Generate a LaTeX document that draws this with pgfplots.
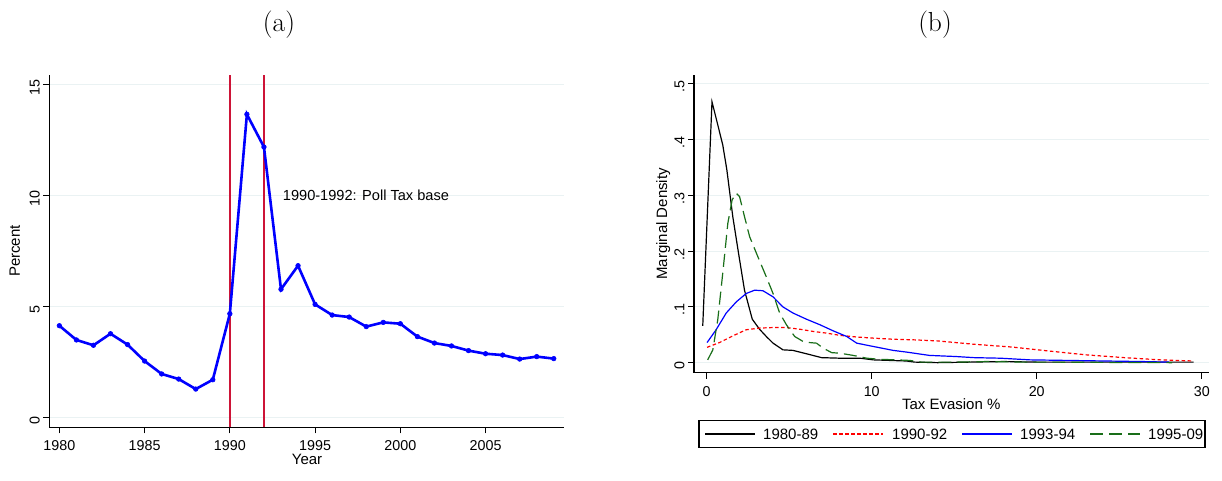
\documentclass[border=0pt]{standalone}
\usepackage{fontspec}
\usepackage{pgfplots}
\pgfplotsset{compat=1.18}
\newfontfamily\sans{Liberation Sans}
\definecolor{gridc}{RGB}{234,242,243}
\definecolor{vline}{RGB}{205,20,55}
\definecolor{dkgreen}{RGB}{25,110,25}
\definecolor{pblue}{RGB}{0,0,255}
\definecolor{pred}{RGB}{255,0,0}
\pgfplotsset{
  stata/.style={
    scale only axis,
    axis lines*=left,
    axis line style={line width=1.2pt, black},
    tick align=outside,
    major tick length=6pt,
    tick style={line width=1.1pt, black},
    ymajorgrids,
    grid style={gridc, line width=1.1pt},
    tick label style={font=\sans\fontsize{14.3}{16}\selectfont},
    label style={font=\sans\fontsize{15}{17}\selectfont},
    /pgf/number format/assume math mode=true,
    yticklabel style={rotate=90, anchor=south, xshift=-3pt},
    xticklabel style={yshift=-4pt},
  }
}
\begin{document}
\begin{tikzpicture}
\useasboundingbox (0pt,0pt) rectangle (1222pt,481pt);
\node[font=\fontsize{27.5}{30}\selectfont] at (279pt,456pt) {(a)};
\node[font=\fontsize{27.5}{30}\selectfont] at (935pt,456pt) {(b)};

\begin{axis}[stata,
  at={(49.3pt,53.7pt)}, anchor=south west,
  width=514.7pt, height=352.3pt,
  xmin=1979.41, xmax=2009.6, ymin=-0.43, ymax=15.42,
  xtick={1980,1985,1990,1995,2000,2005},
  xticklabels={1980,1985,1990,1995,2000,2005},
  ytick={0,5,10,15}, yticklabels={0,5,10,15},
  xlabel={Year}, ylabel={Percent},
  xlabel style={at={(axis description cs:0.5007,-0.09)}, anchor=center},
  ylabel style={at={(axis description cs:-0.067,0.5)}, anchor=center},
]
\addplot[color=vline, draw=vline, line width=1.5pt] coordinates {(1990,-0.43) (1990,15.42)};
\addplot[color=vline, draw=vline, line width=1.5pt] coordinates {(1992,-0.43) (1992,15.42)};
\addplot[color=pblue, draw=pblue, line width=2.6pt, mark=*, mark size=2.3pt, mark options={solid, fill=pblue, draw=pblue, line width=0.6pt}] coordinates {
(1980,4.14) (1981,3.50) (1982,3.26) (1983,3.78) (1984,3.29)
(1985,2.55) (1986,1.97) (1987,1.74) (1988,1.29) (1989,1.71)
(1990,4.68) (1991,13.65) (1992,12.18) (1993,5.78) (1994,6.84)
(1995,5.10) (1996,4.62) (1997,4.53) (1998,4.10) (1999,4.29)
(2000,4.23) (2001,3.65) (2002,3.36) (2003,3.23) (2004,3.02)
(2005,2.88) (2006,2.82) (2007,2.64) (2008,2.75) (2009,2.66)
};
\node[anchor=west, inner sep=0pt, font=\sans\fontsize{14.6}{17}\selectfont] at (axis cs:1993.1,10) {1990-1992: Poll Tax base};
\end{axis}

\begin{axis}[stata,
  at={(694pt,108.3pt)}, anchor=south west,
  width=514.5pt, height=297.7pt,
  xmin=-0.77, xmax=30.41, ymin=-0.018, ymax=0.516,
  xtick={0,10,20,30}, xticklabels={0,10,20,30},
  ytick={0,0.1,0.2,0.3,0.4,0.5}, yticklabels={0,.1,.2,.3,.4,.5},
  xlabel={Tax Evasion \%}, ylabel={Marginal Density},
  xlabel style={at={(axis description cs:0.5,-0.105)}, anchor=center},
  ylabel style={at={(axis description cs:-0.06,0.5)}, anchor=center},
]
\addplot[black, line width=1.2pt] coordinates {
(-0.24,0.066) (0.32,0.468) (0.97,0.391) (1.22,0.346) (1.58,0.262) (1.93,0.196)
(2.29,0.130) (2.76,0.078) (3.2,0.060) (3.61,0.047) (4.02,0.035) (4.62,0.023)
(5.23,0.022) (6.04,0.016) (6.96,0.009) (8.07,0.008) (9.29,0.008) (10.1,0.005)
(12.1,0.003) (12.6,0.001) (14,0.0) (16,0.001) (18,0.002) (20,0.001) (22,0.001)
(25,0.001) (28,0.001) (29.5,0.001)
};
\addplot[pred, line width=1.2pt, dash pattern=on 3.5pt off 2.5pt] coordinates {
(0.02,0.0275) (0.77,0.036) (1.58,0.048) (2.39,0.059) (3.2,0.062) (4.02,0.063)
(4.83,0.063) (5.64,0.060) (6.45,0.056) (7.26,0.053) (8.07,0.049) (9.09,0.046)
(10.1,0.044) (11.3,0.042) (12.5,0.041) (14,0.039) (16.2,0.033) (18.5,0.028)
(20.7,0.021) (23,0.014) (25.3,0.009) (27.5,0.005) (29.5,0.003)
};
\addplot[pblue, line width=1.2pt] coordinates {
(0.02,0.036) (0.57,0.059) (1.18,0.089) (1.79,0.109) (2.39,0.124) (2.9,0.130)
(3.41,0.129) (4.02,0.118) (4.62,0.100) (5.23,0.089) (6.04,0.078) (6.86,0.068)
(7.67,0.057) (8.48,0.047) (9.09,0.035) (10.1,0.029) (11.3,0.022) (12.1,0.019)
(13.5,0.013) (15.1,0.011) (16.2,0.009) (17.8,0.008) (19.6,0.005) (21.9,0.004)
(24.1,0.003) (26.4,0.002) (28,0.001)
};
\addplot[dkgreen, line width=1.2pt, dash pattern=on 13pt off 6pt] coordinates {
(0.06,0.005) (0.37,0.023) (0.67,0.077) (0.97,0.160) (1.28,0.250) (1.54,0.292)
(1.79,0.304) (1.99,0.298) (2.29,0.262) (2.6,0.226) (3.1,0.190) (3.61,0.154)
(4.02,0.124) (4.42,0.089) (4.83,0.068) (5.33,0.047) (5.84,0.038) (6.25,0.036)
(6.65,0.035) (7.06,0.026) (7.57,0.018) (8.07,0.017) (8.88,0.013) (9.7,0.008)
(10.5,0.006) (11.5,0.005) (12.3,0.004) (13,0.001) (15,0.001) (17,0.002)
(19,0.001) (21,0.001) (24,0.0005) (28.2,0.0)
};
\node[anchor=west, inner sep=0pt, font=\sans\fontsize{11.2}{13}\selectfont] at (axis description cs:0.006,-0.298) {kernel = epanechnikov, bandwidth = 0.2291};
\end{axis}

% legend box, drawn as a small framed axis
\begin{axis}[
  scale only axis,
  at={(699pt,33.7pt)}, anchor=south west,
  width=506pt, height=26.6pt,
  xmin=0, xmax=506, ymin=0, ymax=26.6,
  xtick=\empty, ytick=\empty,
  axis line style={line width=1.2pt, black},
  clip=false,
]
\addplot[black, line width=1.2pt] coordinates {(6,13.3) (56,13.3)};
\addplot[pred, line width=1.2pt, dash pattern=on 3.5pt off 2.5pt] coordinates {(134,13.3) (184,13.3)};
\addplot[pblue, line width=1.2pt] coordinates {(263,13.3) (313,13.3)};
\addplot[dkgreen, line width=1.2pt, dash pattern=on 13pt off 6pt] coordinates {(391,13.3) (441,13.3)};
\node[anchor=west, inner sep=0pt, font=\sans\fontsize{15}{17}\selectfont] at (axis cs:64,12.8) {1980-89};
\node[anchor=west, inner sep=0pt, font=\sans\fontsize{15}{17}\selectfont] at (axis cs:193,12.8) {1990-92};
\node[anchor=west, inner sep=0pt, font=\sans\fontsize{15}{17}\selectfont] at (axis cs:321,12.8) {1993-94};
\node[anchor=west, inner sep=0pt, font=\sans\fontsize{15}{17}\selectfont] at (axis cs:449,12.8) {1995-09};
\end{axis}
\end{tikzpicture}
\end{document}
